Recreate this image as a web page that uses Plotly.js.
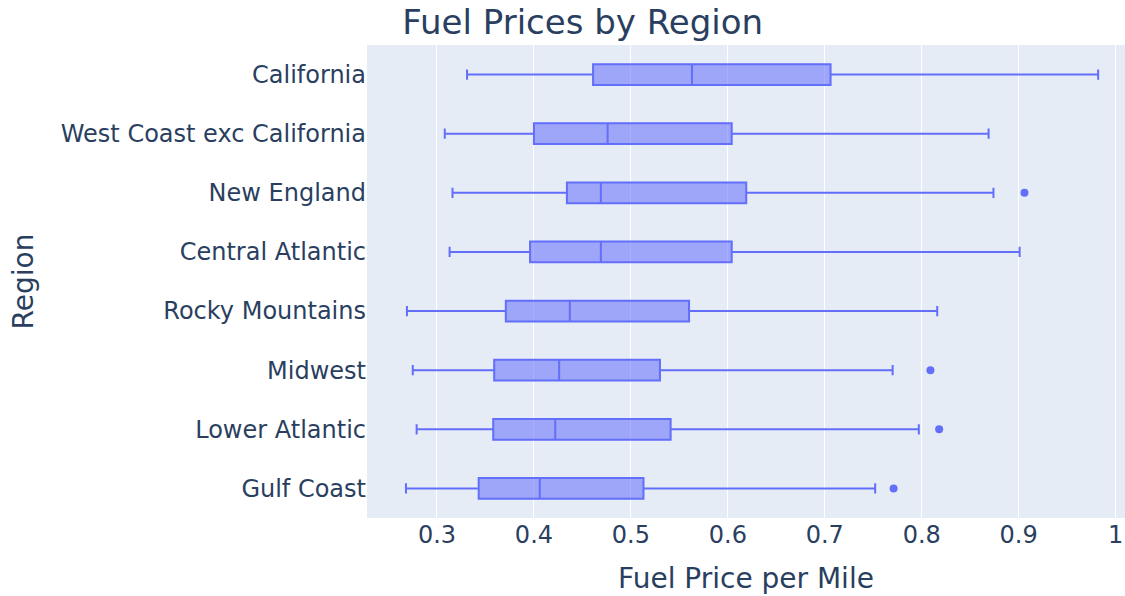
<!DOCTYPE html>
<html>
<head>
<meta charset="utf-8">
<script src="https://cdn.plot.ly/plotly-3.0.1.min.js"></script>
<style>html,body{margin:0;padding:0;background:#fff;}#chart{width:1125px;height:596px;}</style>
</head>
<body>
<div id="chart"></div>
<script>
// Regions, listed top to bottom as in the chart
const regions = ["California", "West Coast exc California", "New England", "Central Atlantic",
                 "Rocky Mountains", "Midwest", "Lower Atlantic", "Gulf Coast"];
const lowerFence = [0.331, 0.308, 0.316, 0.313, 0.269, 0.275, 0.279, 0.268];
const q1Values   = [0.461, 0.400, 0.434, 0.396, 0.371, 0.359, 0.358, 0.343];
const medians    = [0.563, 0.476, 0.469, 0.469, 0.437, 0.426, 0.422, 0.406];
const q3Values   = [0.706, 0.604, 0.619, 0.604, 0.560, 0.530, 0.541, 0.513];
const upperFence = [0.982, 0.869, 0.874, 0.901, 0.816, 0.770, 0.797, 0.752];
// Outlier points
const outlierRegions = ["New England", "Midwest", "Lower Atlantic", "Gulf Coast"];
const outlierValues  = [0.906, 0.809, 0.818, 0.771];
const xTickVals = [0.3, 0.4, 0.5, 0.6, 0.7, 0.8, 0.9, 1];

const blue = "#636efa";
const fontFam = "DejaVu Sans, Verdana, sans-serif";

const traces = [
  {
    type: "box",
    orientation: "h",
    y: regions,
    q1: q1Values,
    median: medians,
    q3: q3Values,
    lowerfence: lowerFence,
    upperfence: upperFence,
    line: {color: blue, width: 2},
    fillcolor: "rgba(99,110,250,0.55)",
    whiskerwidth: 0.5,
    boxpoints: false,
    showlegend: false,
    hoverinfo: "x"
  },
  {
    type: "scatter",
    mode: "markers",
    y: outlierRegions,
    x: outlierValues,
    marker: {color: blue, size: 8},
    showlegend: false,
    hoverinfo: "x"
  }
];

const layout = {
  width: 1125,
  height: 596,
  margin: {l: 367, r: 0, t: 45, b: 78},
  paper_bgcolor: "#ffffff",
  plot_bgcolor: "#E5ECF6",
  font: {family: fontFam, color: "#2a3f5f", size: 24},
  title: {
    text: "Fuel Prices by Region",
    font: {family: fontFam, size: 34, color: "#2a3f5f"},
    xref: "container", x: 0.518, xanchor: "center",
    yref: "container", y: 0.963, yanchor: "middle"
  },
  boxgap: 0.5,
  xaxis: {
    range: [0.2278, 1.0097],
    tickvals: xTickVals,
    ticktext: xTickVals.map(String),
    gridcolor: "#ffffff",
    gridwidth: 1,
    zeroline: false,
    showline: false,
    ticks: "",
    tickfont: {size: 24},
    title: {text: "Fuel Price per Mile", font: {size: 28}, standoff: 20},
    automargin: false
  },
  yaxis: {
    type: "category",
    categoryorder: "array",
    categoryarray: regions,
    autorange: "reversed",
    showgrid: false,
    zeroline: false,
    showline: false,
    ticks: "",
    tickfont: {size: 24},
    title: {text: "Region", font: {size: 28}, standoff: 18},
    automargin: false
  }
};

Plotly.newPlot("chart", traces, layout, {displayModeBar: false, staticPlot: true});
</script>
</body>
</html>
